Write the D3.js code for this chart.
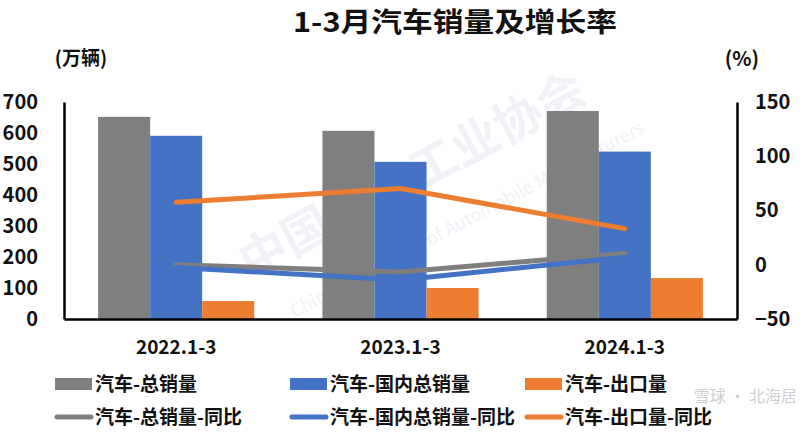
<!DOCTYPE html>
<html><head><meta charset="utf-8">
<script src="https://cdn.jsdelivr.net/npm/d3@7"></script>
<style>
html,body{margin:0;padding:0;background:#fff;}
text{font-family:"Noto Sans CJK SC","Noto Sans",sans-serif;font-weight:bold;}
</style></head>
<body><svg id="c" width="800" height="436"></svg>
<script>
const categories = ["2022.1-3","2023.1-3","2024.1-3"];
const totalSales = [652, 607, 671];
const domesticSales = [591, 507, 540];
const exportSales = [58, 100, 132];
const totalYoY = [0.1, -6.7, 10.6];
const domesticYoY = [-2.5, -14, 7];
const exportYoY = [57.6, 70.2, 33.3];
const leftTicks = [0,100,200,300,400,500,600,700];
const rightTicks = [-50,0,50,100,150];

const barSeries = [
  {name:"汽车-总销量", values: totalSales, color:"#7f7f7f"},
  {name:"汽车-国内总销量", values: domesticSales, color:"#4472c4"},
  {name:"汽车-出口量", values: exportSales, color:"#ed7d31"}
];
const lineSeries = [
  {name:"汽车-总销量-同比", values: totalYoY, color:"#7f7f7f"},
  {name:"汽车-国内总销量-同比", values: domesticYoY, color:"#4472c4"},
  {name:"汽车-出口量-同比", values: exportYoY, color:"#ed7d31"}
];

const svg = d3.select("#c");
const L = 64, R = 737, T = 102, B = 319;

const x0 = d3.scaleBand().domain(categories).range([L, R]).paddingInner(0.304).paddingOuter(0.152);
const x1 = d3.scaleBand().domain(barSeries.map(d=>d.name)).range([0, x0.bandwidth()]).padding(0);
const yL = d3.scaleLinear().domain([0,700]).range([B, T]);
const yR = d3.scaleLinear().domain([-50,150]).range([B, T]);

// watermark (faint)
svg.append("text").attr("x", 420).attr("y", 190).attr("text-anchor","middle")
  .attr("transform","rotate(-28,420,190)")
  .attr("font-size", 48).attr("fill","#f0f2f7").text("中国汽车工业协会");
svg.append("text").attr("x", 470).attr("y", 225).attr("text-anchor","middle")
  .attr("transform","rotate(-28,470,225)")
  .attr("font-size", 18).attr("fill","#f0f2f7").style("font-weight","normal")
  .text("China Association of Automobile Manufacturers");

// title
svg.append("text").attr("x", 455).attr("y", 32).attr("text-anchor","middle")
  .attr("font-size", 27).attr("textLength", 324).attr("lengthAdjust","spacingAndGlyphs")
  .attr("fill","#111").text("1-3月汽车销量及增长率");
svg.append("text").attr("x", 81).attr("y", 65).attr("text-anchor","middle")
  .attr("font-size", 19).attr("fill","#111").text("(万辆)");
svg.append("text").attr("x", 742).attr("y", 66).attr("text-anchor","middle")
  .attr("font-size", 20).attr("fill","#111").text("(%)");

// bars
barSeries.forEach(s => {
  svg.append("g").selectAll("rect").data(categories).join("rect")
    .attr("x", (c)=> x0(c) + x1(s.name))
    .attr("width", x1.bandwidth())
    .attr("y", (c,i)=> yL(s.values[i]))
    .attr("height", (c,i)=> B - yL(s.values[i]))
    .attr("fill", s.color);
});

// lines
const lineGen = d3.line().x(d=>d[0]).y(d=>d[1]);
lineSeries.forEach(s => {
  const pts = categories.map((c,i)=>[x0(c)+x0.bandwidth()/2, yR(s.values[i])]);
  svg.append("path").attr("d", lineGen(pts)).attr("fill","none")
    .attr("stroke", s.color).attr("stroke-width", 5).attr("stroke-linecap","round").attr("stroke-linejoin","round");
});

// axes
const axL = svg.append("g").attr("transform",`translate(${L},0)`)
  .call(d3.axisLeft(yL).tickValues(leftTicks).tickSize(0).tickPadding(26).tickFormat(d3.format("d")));
const axR = svg.append("g").attr("transform",`translate(${R},0)`)
  .call(d3.axisRight(yR).tickValues(rightTicks).tickSize(0).tickPadding(18).tickFormat(d3.format("d")));
const axB = svg.append("g").attr("transform",`translate(0,${B})`)
  .call(d3.axisBottom(x0).tickSize(0).tickPadding(22));
[axL, axR, axB].forEach(a => {
  a.select(".domain").attr("stroke","#000").attr("stroke-width",2.5);
  a.selectAll("text").attr("fill","#111").style("font-family",'"Noto Sans CJK SC","Noto Sans",sans-serif').style("font-weight","bold");
});
axL.selectAll("text").attr("font-size", 20);
axR.selectAll("text").attr("font-size", 20);
axB.selectAll("text").attr("font-size", 19);

// legend
const colX = [55, 290, 525];
barSeries.forEach((s,i) => {
  svg.append("rect").attr("x", colX[i]).attr("y", 378).attr("width", 37).attr("height", 12).attr("fill", s.color);
  svg.append("text").attr("x", colX[i]+40).attr("y", 391).attr("font-size", 19).attr("fill","#111").text(s.name);
});
lineSeries.forEach((s,i) => {
  svg.append("line").attr("x1", colX[i]+2).attr("x2", colX[i]+36).attr("y1", 417).attr("y2", 417)
    .attr("stroke", s.color).attr("stroke-width", 5).attr("stroke-linecap","round");
  svg.append("text").attr("x", colX[i]+40).attr("y", 424).attr("font-size", 19).attr("fill","#111").text(s.name);
});

// bottom-right watermark
svg.append("text").attr("x", 797).attr("y", 402).attr("text-anchor","end")
  .attr("font-size", 16).attr("fill","#cfcfcf").style("font-weight","normal").text("雪球 · 北海居");
</script></body></html>
